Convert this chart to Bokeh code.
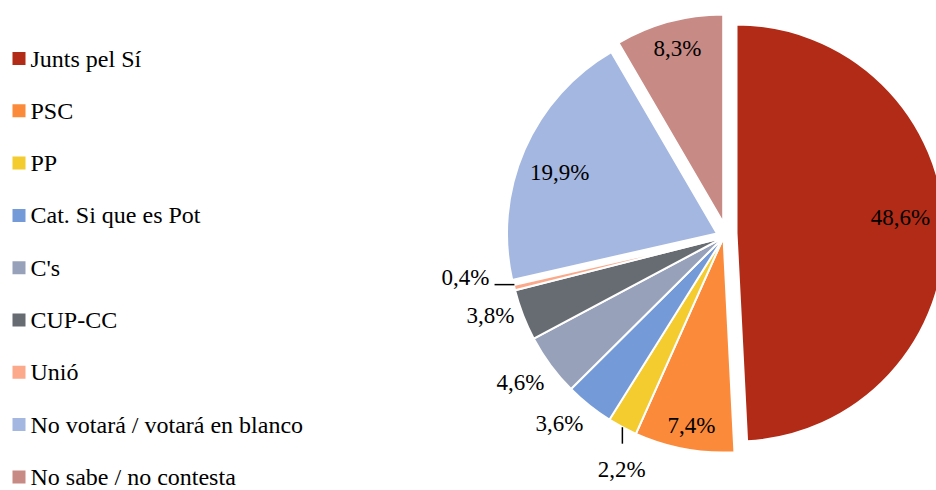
import math
from bokeh.plotting import figure
from bokeh.models import Range1d, ColumnDataSource
from bokeh.core.properties import value
from bokeh.embed import file_html
from bokeh.resources import INLINE

# ---- data ----
categories = ["Junts pel Sí", "PSC", "PP", "Cat. Si que es Pot", "C's", "CUP-CC",
              "Unió", "No votará / votará en blanco", "No sabe / no contesta"]
values = [48.6, 7.4, 2.2, 3.6, 4.6, 3.8, 0.4, 19.9, 8.3]
labels = ["48,6%", "7,4%", "2,2%", "3,6%", "4,6%", "3,8%", "0,4%", "19,9%", "8,3%"]
colors = ["#B22B16", "#FB8A3A", "#F4CC30", "#759AD8", "#97A2BA", "#676B72",
          "#FBA98A", "#A4B7E1", "#C78A84"]

# ---- layout (pixels) ----
W, H = 936, 490
SCREEN_H = 490
CX, CY = 723, SCREEN_H - 237
# per-slice offset of the wedge apex (exploded slices) and radius
off_x = [13, 0, 0, 0, 0, 0, 0, -6.5, -0.3]
off_y = [4.5, 0, 0, 0, 0, 0, 0, 4, 15]
radius = [208.5, 215, 215, 215, 215, 215, 215, 210, 208]
label_rf = [0.79, 0.887, 1.179, 1.153, 1.160, 1.143, 1.214, 0.804, 0.865]
label_da = [-3.9, -0.9, -4.4, 2.8, 0.9, 2.6, 4.7, -2.3, 0.4]
FONT = "Liberation Serif"

total = sum(values)
starts, ends, xs, ys, lx, ly = [], [], [], [], [], []
arcx, arcy = [], []
cum = 0.0
for i, v in enumerate(values):
    a0 = cum / total * 2 * math.pi
    cum += v
    a1 = cum / total * 2 * math.pi
    mid = (a0 + a1) / 2
    starts.append(math.pi / 2 - a1)
    ends.append(math.pi / 2 - a0)
    ox = CX + off_x[i]
    oy = CY + off_y[i]
    r = radius[i]
    xs.append(ox)
    ys.append(oy)
    la = mid + math.radians(label_da[i])
    lx.append(ox + label_rf[i] * r * math.sin(la))
    ly.append(oy + label_rf[i] * r * math.cos(la))
    arcx.append(ox + r * math.sin(mid))
    arcy.append(oy + r * math.cos(mid))

src = ColumnDataSource(dict(x=xs, y=ys, r=radius, start=starts, end=ends, color=colors,
                            lx=lx, ly=ly, label=labels))

p = figure(width=W, height=H, output_backend="svg", toolbar_location=None,
           x_range=Range1d(0, W), y_range=Range1d(SCREEN_H - H, SCREEN_H),
           min_border=0, outline_line_color=None,
           background_fill_color="white", border_fill_color="white")
p.axis.visible = False
p.grid.visible = False

p.wedge(x="x", y="y", radius="r", start_angle="start", end_angle="end",
        fill_color="color", line_color="white", line_width=2, source=src)

p.text(x="lx", y="ly", text="label", source=src, text_font=value(FONT),
       text_font_size="23px", text_align="center", text_baseline="middle",
       text_color="#000000")

# leader lines for PP (vertical) and Unió (horizontal)
seg_x0 = [arcx[2], arcx[6]]
seg_y0 = [arcy[2], arcy[6]]
seg_x1 = [arcx[2], lx[6] + 29]
seg_y1 = [ly[2] + 26, arcy[6] + 3]
seg_y0[1] = arcy[6] + 3
p.segment(x0=seg_x0, y0=seg_y0, x1=seg_x1, y1=seg_y1, line_color="#000000", line_width=1.5)

# legend
LEG_TOP = SCREEN_H - 58
LEG_STEP = 52.3
leg_y = [LEG_TOP - i * LEG_STEP for i in range(len(categories))]
leg = ColumnDataSource(dict(y=leg_y, color=colors, name=categories,
                            sx=[18.5] * len(categories), tx=[30] * len(categories)))
p.rect(x="sx", y="y", width=13, height=13, fill_color="color", line_color=None, source=leg)
p.text(x="tx", y="y", text="name", source=leg, text_font=value(FONT),
       text_font_size="24px", text_align="left", text_baseline="middle",
       text_color="#000000")

open("out.html", "w").write(file_html(p, INLINE))
